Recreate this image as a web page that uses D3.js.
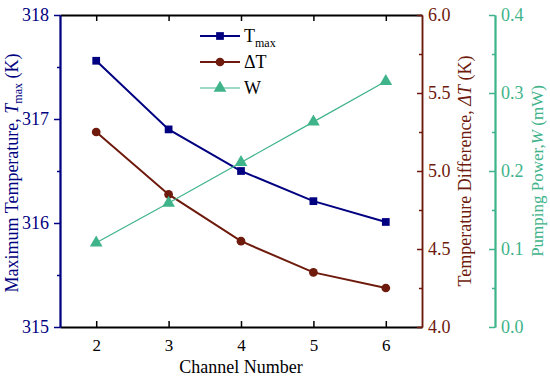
<!DOCTYPE html>
<html>
<head>
<meta charset="utf-8">
<script src="https://cdn.jsdelivr.net/npm/d3@7"></script>
<style>
body{margin:0;background:#fff;}
</style>
</head>
<body>
<svg></svg>
<script>
//data
var channels = [2,3,4,5,6];
var tmax = [317.56,316.90,316.50,316.21,316.01];
var deltaT = [5.25,4.85,4.55,4.35,4.25];
var power = [0.108,0.159,0.211,0.263,0.315];
var leftTicks = [315,316,317,318];
var midTicks = [4.0,4.5,5.0,5.5,6.0];
var rightTicks = [0.0,0.1,0.2,0.3,0.4];

var width = 550, height = 381;
var plot = {left:60,right:422,top:15,bottom:327};
var blue = '#000080', red = '#6e1a0c', green = '#3fb38a';

var svg = d3.select('svg').attr('width',width).attr('height',height);

var x = d3.scaleLinear().domain([1.5,6.5]).range([plot.left,plot.right]);
var yT = d3.scaleLinear().domain([315,318]).range([plot.bottom,plot.top]);
var yD = d3.scaleLinear().domain([4,6]).range([plot.bottom,plot.top]);
var yW = d3.scaleLinear().domain([0,0.4]).range([plot.bottom,plot.top]);

//axes
function styleAxis(g,color,size){
	g.selectAll('path,line').attr('stroke',color).attr('stroke-width',1.5);
	g.selectAll('text').attr('fill',color).style('font-size',size+'px');
}
var xb = svg.append('g').attr('transform','translate(0,'+plot.bottom+')')
	.call(d3.axisBottom(x).tickValues(channels).tickFormat(d3.format('d')).tickSizeInner(-6).tickSizeOuter(0).tickPadding(12));
styleAxis(xb,'#000',17);
xb.select('.domain').attr('stroke-width',2);
var xt = svg.append('g').attr('transform','translate(0,'+plot.top+')')
	.call(d3.axisTop(x).tickValues(channels).tickFormat('').tickSizeInner(-6).tickSizeOuter(0));
styleAxis(xt,'#000',17);
xt.select('.domain').attr('stroke-width',2);

//minor ticks
var gl = svg.append('g').attr('transform','translate('+plot.left+',0)');
gl.call(d3.axisLeft(yT).tickValues([315.5,316.5,317.5]).tickFormat('').tickSize(3).tickSizeOuter(0));
var yl = svg.append('g').attr('transform','translate('+plot.left+',0)')
	.call(d3.axisLeft(yT).tickValues(leftTicks).tickFormat(d3.format('d')).tickSizeInner(6).tickSizeOuter(0).tickPadding(5));
styleAxis(yl,blue,18); styleAxis(gl,blue,18);
yl.select('.domain').attr('stroke-width',2);

var gm = svg.append('g').attr('transform','translate('+plot.right+',0)');
gm.call(d3.axisRight(yD).tickValues([4.25,4.75,5.25,5.75]).tickFormat('').tickSize(-3).tickSizeOuter(0));
var ym = svg.append('g').attr('transform','translate('+plot.right+',0)')
	.call(d3.axisRight(yD).tickValues(midTicks).tickFormat(d3.format('.1f')).tickSizeInner(-5).tickSizeOuter(0).tickPadding(6));
styleAxis(ym,red,18); styleAxis(gm,red,18);

var gr = svg.append('g').attr('transform','translate(495,0)');
gr.call(d3.axisRight(yW).tickValues([0.05,0.15,0.25,0.35]).tickFormat('').tickSize(-3).tickSizeOuter(0));
var yr = svg.append('g').attr('transform','translate(495,0)')
	.call(d3.axisRight(yW).tickValues(rightTicks).tickFormat(d3.format('.1f')).tickSizeInner(-6).tickSizeOuter(0).tickPadding(6));
styleAxis(yr,green,18); styleAxis(gr,green,18);
yr.select('.domain').attr('stroke-width',2);

//titles
svg.append('text').attr('x',241).attr('y',373).attr('text-anchor','middle')
	.style('font-size','18px').attr('fill','#000').text('Channel Number');
var t1 = svg.append('text').attr('transform','translate(18,173) rotate(-90)').attr('text-anchor','middle')
	.style('font-size','18px').attr('fill',blue);
t1.append('tspan').text('Maximum Temperature, ');
t1.append('tspan').style('font-style','italic').text('T');
t1.append('tspan').attr('dy',4).style('font-size','12px').text('max');
t1.append('tspan').attr('dy',-4).text(' (K)');
var t2 = svg.append('text').attr('transform','translate(471,171) rotate(-90)').attr('text-anchor','middle')
	.style('font-size','18px').attr('fill',red);
t2.append('tspan').text('Temperature Difference, ');
t2.append('tspan').style('font-style','italic').text('\u0394T');
t2.append('tspan').text(' (K)');
var t3 = svg.append('text').attr('transform','translate(543,171) rotate(-90)').attr('text-anchor','middle')
	.style('font-size','17px').attr('fill',green);
t3.append('tspan').text('Pumping Power,');
t3.append('tspan').style('font-style','italic').text('W');
t3.append('tspan').text(' (mW)');

//series
var series = [
	{name:'T',sub:'max',vals:tmax,y:yT,color:blue,w:2,shape:d3.symbolSquare,size:60},
	{name:'\u0394T',sub:'',vals:deltaT,y:yD,color:red,w:2,shape:d3.symbolCircle,size:60},
	{name:'W',sub:'',vals:power,y:yW,color:green,w:1.2,shape:d3.symbolTriangle,size:70}
];
series.forEach(function(s,i){
	var line = d3.line().x(function(d,j){return x(channels[j]);}).y(function(d){return s.y(d);});
	svg.append('path').datum(s.vals).attr('d',line).attr('fill','none')
		.attr('stroke',s.color).attr('stroke-width',s.w);
	svg.selectAll('.m'+i).data(s.vals).enter().append('path')
		.attr('transform',function(d,j){return 'translate('+x(channels[j])+','+s.y(d)+')';})
		.attr('d',d3.symbol().type(s.shape).size(s.size)).attr('fill',s.color);
	//legend
	var ly = 36 + i*26;
	svg.append('line').attr('x1',200).attr('x2',240).attr('y1',ly).attr('y2',ly)
		.attr('stroke',s.color).attr('stroke-width',s.w);
	svg.append('path').attr('transform','translate(220,'+ly+')')
		.attr('d',d3.symbol().type(s.shape).size(s.size)).attr('fill',s.color);
	var lt = svg.append('text').attr('x',244).attr('y',ly+6).style('font-size','18px').attr('fill','#000');
	lt.append('tspan').text(s.name);
	if(s.sub) lt.append('tspan').attr('dy',5).style('font-size','12px').text(s.sub);
});

//every text in the serif face
svg.selectAll('g').attr('font-family',null);
svg.selectAll('text').style('font-family','Liberation Serif');
</script>
</body>
</html>
